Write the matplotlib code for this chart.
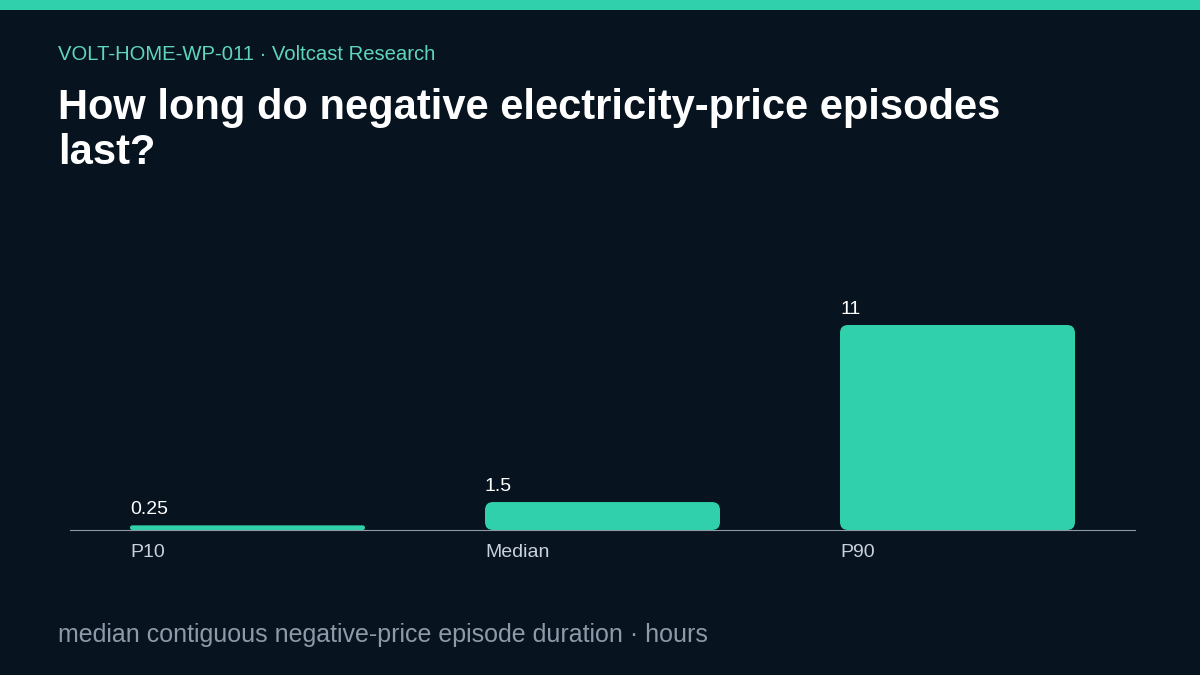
import matplotlib.pyplot as plt
from matplotlib.patches import FancyBboxPatch

categories = ["P10", "Median", "P90"]
values = [0.25, 1.5, 11]
value_labels = ["0.25", "1.5", "11"]

BG = "#07131f"
TEAL = "#2fd0ab"

plt.rcParams['font.family'] = ['Liberation Sans', 'DejaVu Sans']

fig = plt.figure(figsize=(12, 6.75), dpi=100)
fig.patch.set_facecolor(BG)

# top stripe
fig.add_artist(plt.Rectangle((0, 1 - 10/675), 1, 10/675, transform=fig.transFigure,
                             color=TEAL, lw=0))

fig.text(58/1200, 1 - 54/675, "VOLT-HOME-WP-011 · Voltcast Research", color="#5fd6bb",
         fontsize=14.6, va="center")
fig.text(58/1200, 1 - 88/675, "How long do negative electricity-price episodes\nlast?",
         color="white", fontsize=30, fontweight="bold", va="top", linespacing=1.17)
fig.text(58/1200, 1 - 635/675, "median contiguous negative-price episode duration · hours",
         color="#8d9aa8", fontsize=18, va="center")

ax = fig.add_axes([70/1200, 1 - 530/675, 1065/1200, 230/675])
ax.set_facecolor(BG)
ax.set_xlim(-0.5, 2.5)
ax.set_ylim(0, 11 * 230 / 205)

width = 235 / 355
ry_per_hr = 205 / 11
for i, (v, lab) in enumerate(zip(values, value_labels)):
    x0 = i - width / 2
    r_px = min(8, v * ry_per_hr / 2)
    rsize = r_px / 355
    ax.add_patch(FancyBboxPatch((x0, 0), width, v,
                                boxstyle=f"round,pad=0,rounding_size={rsize}",
                                mutation_aspect=355 / ry_per_hr,
                                fc=TEAL, ec="none"))
    ax.annotate(lab, (x0, v), xytext=(0, 5), textcoords="offset points",
                color="white", fontsize=14, ha="left", va="bottom")
    ax.text(x0, -0.75, categories[i], color="#c9d2dc", fontsize=14, ha="left", va="top")

for s in ["top", "right", "left"]:
    ax.spines[s].set_visible(False)
ax.spines["bottom"].set_color("#8d9aa8")
ax.set_xticks([])
ax.set_yticks([])

fig.savefig("out.png", facecolor=BG)
